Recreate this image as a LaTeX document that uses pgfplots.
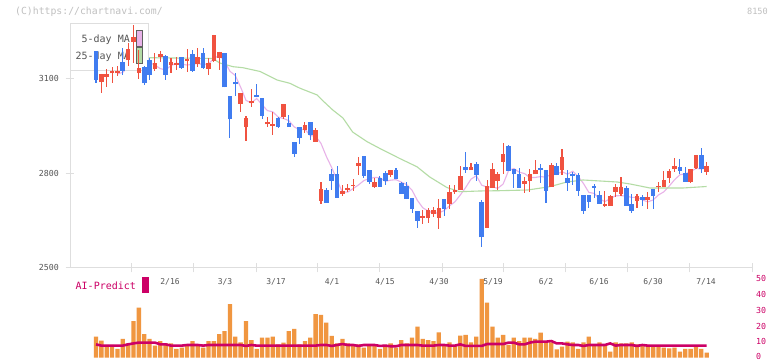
\documentclass[border=0pt]{standalone}
\usepackage{pgfplots}
\pgfplotsset{compat=1.18}
\usepackage{pgfplotstable}
\usepackage{fontspec}
\newfontfamily\cf{DejaVu Sans Mono}
\newcommand{\fs}[1]{\fontsize{#1}{#1}\selectfont}
\definecolor{cred}{RGB}{240,82,64}
\definecolor{cblue}{RGB}{64,124,240}
\definecolor{volor}{RGB}{240,150,64}
\definecolor{mapink}{RGB}{232,178,232}
\definecolor{magreen}{RGB}{180,220,165}
\definecolor{aimag}{RGB}{204,0,102}
\definecolor{lgray}{RGB}{222,222,222}
\definecolor{tgray}{RGB}{85,85,85}
\definecolor{cgray}{RGB}{192,192,192}
\definecolor{sgray}{RGB}{96,96,96}

\pgfplotstableread{
i o h l c
1 3090 3116 3056 3116
2 3107 3131 3074 3116
3 3118 3139 3088 3125
4 3118 3141 3110 3125
6 3160 3214 3141 3195
7 3218 3272 3151 3233
8 3119 3192 3100 3135
11 3133 3183 3124 3151
12 3169 3190 3155 3179
14 3143 3167 3119 3155
15 3144 3171 3129 3152
17 3158 3195 3123 3164
19 3148 3198 3139 3169
21 3133 3167 3114 3151
22 3157 3240 3154 3240
23 3168 3187 3129 3187
27 3021 3056 2995 3056
28 2949 2983 2904 2977
29 3023 3068 3010 3031
32 2956 2979 2948 2963
33 2951 2996 2922 2958
35 2980 3021 2972 3021
39 2939 2963 2930 2954
41 2901 2945 2901 2938
42 2714 2773 2703 2750
46 2736 2763 2729 2745
47 2749 2767 2742 2753
48 2760 2783 2744 2763
49 2824 2853 2795 2834
52 2756 2786 2753 2774
55 2796 2811 2790 2811
61 2660 2684 2639 2665
62 2658 2691 2642 2684
63 2673 2693 2663 2684
64 2660 2718 2625 2692
66 2703 2763 2687 2740
67 2740 2763 2735 2747
68 2748 2825 2748 2792
70 2811 2834 2811 2820
73 2628 2779 2628 2761
74 2755 2834 2755 2814
75 2777 2806 2748 2798
76 2837 2898 2798 2862
80 2768 2788 2739 2776
81 2776 2813 2742 2798
82 2797 2843 2797 2811
85 2758 2834 2758 2827
87 2811 2878 2795 2851
95 2697 2744 2695 2703
96 2697 2732 2697 2729
97 2742 2767 2725 2756
98 2736 2789 2730 2756
101 2713 2735 2690 2729
103 2717 2741 2688 2724
105 2756 2772 2741 2760
106 2758 2808 2758 2779
107 2787 2814 2771 2808
108 2814 2850 2804 2824
111 2774 2814 2771 2814
112 2818 2859 2814 2859
114 2806 2836 2795 2824
}\redtab

\pgfplotstableread{
i o h l c
0 3190 3190 3088 3097
5 3154 3198 3113 3125
9 3138 3141 3081 3086
10 3160 3167 3097 3114
13 3172 3176 3097 3114
16 3169 3171 3132 3136
18 3179 3192 3123 3126
20 3181 3198 3132 3134
24 3183 3183 3073 3073
25 3046 3046 2914 2972
26 3091 3118 3046 3083
30 3049 3084 3044 3044
31 3040 3040 2974 2983
34 2977 2980 2944 2948
36 2960 2986 2949 2949
37 2901 2901 2851 2863
38 2949 2949 2893 2914
40 2964 2964 2906 2922
43 2748 2753 2707 2707
44 2798 2814 2748 2777
45 2798 2824 2723 2723
50 2856 2856 2786 2793
51 2811 2811 2767 2774
53 2786 2792 2758 2758
54 2803 2808 2763 2777
56 2811 2817 2782 2782
57 2771 2773 2735 2735
58 2761 2774 2719 2719
59 2721 2721 2676 2687
60 2681 2681 2628 2650
65 2719 2719 2665 2687
69 2820 2867 2803 2811
71 2830 2836 2776 2795
72 2710 2716 2568 2597
77 2887 2890 2809 2809
78 2813 2813 2755 2797
79 2798 2816 2755 2755
83 2816 2830 2771 2811
84 2811 2811 2707 2745
86 2824 2832 2795 2795
88 2787 2811 2745 2771
89 2798 2805 2764 2792
90 2795 2803 2730 2745
91 2732 2732 2671 2682
92 2732 2732 2691 2710
93 2760 2767 2722 2755
94 2732 2744 2704 2704
99 2753 2760 2698 2698
100 2703 2734 2676 2681
102 2724 2733 2697 2717
104 2750 2750 2687 2729
109 2821 2846 2798 2809
110 2803 2821 2774 2774
113 2859 2880 2802 2815
}\bluetab

\pgfplotstableread{
i ma
4 3115.8
5 3121.4
6 3137.2
7 3160.6
8 3162.6
9 3154.8
10 3152.6
11 3143.8
12 3133
13 3128.8
14 3142.6
15 3150.2
16 3147.2
17 3144.2
18 3146.6
19 3149.4
20 3145.8
21 3148.8
22 3164
23 3176.2
24 3157
25 3124.6
26 3111
27 3074.2
28 3032.2
29 3023.8
30 3038.2
31 3018.2
32 2999.6
33 2995.8
34 2979.2
35 2974.6
36 2967.8
37 2947.8
38 2939
39 2940.2
40 2920.4
41 2918.2
42 2895.6
43 2854.2
44 2818.8
45 2779
46 2740.4
47 2741
48 2752.2
49 2763.6
50 2777.6
51 2783.4
52 2787.6
53 2786.6
54 2775.2
55 2778.8
56 2780.4
57 2772.6
58 2764.8
59 2746.8
60 2714.6
61 2691.2
62 2681
63 2674
64 2675
65 2682.4
66 2697.4
67 2710
68 2731.6
69 2755.4
70 2782
71 2793
72 2763
73 2756.8
74 2757.4
75 2753
76 2766.4
77 2808.8
78 2816
79 2804.2
80 2799.8
81 2787
82 2787.4
83 2790.2
84 2788.2
85 2798.4
86 2797.8
87 2805.8
88 2797.8
89 2807.2
90 2790.8
91 2768.2
92 2740
93 2736.8
94 2719.2
95 2710.8
96 2720.2
97 2729.4
98 2729.6
99 2728.4
100 2724
101 2724
102 2716.2
103 2709.8
104 2716
105 2731.8
106 2741.8
107 2760
108 2780
109 2796
110 2798.8
111 2805.8
112 2816
113 2814.2
114 2817.2
}\mafive

\pgfplotstableread{
i ma
9.9 3167.6
19.0 3165.7
21.8 3165
23.1 3150.8
25.6 3139
27.4 3135.9
30.6 3124
33.8 3096.8
36.2 3086.3
38.1 3070.5
41.3 3049.2
42.2 3033.3
44.2 3001.6
46.1 2976.2
47.9 2931.8
50.6 2901
53.0 2879.4
56.7 2847.6
59.9 2821.6
62.3 2788.9
65.5 2755.6
67.9 2742.2
71.7 2744.5
75.4 2745.4
80.6 2747.6
84.7 2758.1
87.9 2773
90.9 2779.4
94.1 2776.2
97.3 2773
99.7 2766.7
103.4 2754
109.6 2754
114 2758.7
}\matwf

\pgfplotstableread{
i v
0 13.2
1 10.7
2 8
3 8
4 5.5
5 11.8
6 9
7 23.1
8 31.5
9 14.9
10 11.8
11 7.6
12 10.5
13 9
14 9
15 5.5
16 6.3
17 7.6
18 10.5
19 8.4
20 6.3
21 10.5
22 10.5
23 14.9
24 16.8
25 33.8
26 13.2
27 9.7
28 23.1
29 11.1
30 5.5
31 12.6
32 12.6
33 13.2
34 8.4
35 9.5
36 16.8
37 18.1
38 8.4
39 10.5
40 12.6
41 27.5
42 26.9
43 22.1
44 13.7
45 9
46 11.8
47 9
48 8
49 8.4
50 6.3
51 8.4
52 8.4
53 5.5
54 8
55 9
56 6.3
57 11.1
58 9
59 12.6
60 19.5
61 11.8
62 11.1
63 10.5
64 16
65 8
66 9.7
67 8
68 13.9
69 14.3
70 9.7
71 13.2
72 49.6
73 34.7
74 19.5
75 12.6
76 14.3
77 8
78 12.6
79 10.5
80 12.6
81 12.6
82 11.8
83 15.8
84 10.5
85 9.7
86 5.3
87 6.9
88 10.1
89 9.7
90 5.5
91 9.7
92 13.2
93 8.4
94 9.7
95 8
96 3.8
97 9.7
98 9
99 9
100 9.7
101 8.4
102 8
103 8
104 6.9
105 6.9
106 6.3
107 5.9
108 6.3
109 3.8
110 5.5
111 5.5
112 6.9
113 5.5
114 3.2
}\voltab

\pgfplotstableread{
i p
0 8.4
1 7.6
2 7.6
3 7.6
4 7.6
5 7.6
6 8.4
7 9.0
8 9.5
9 9.5
10 9.5
11 9.5
12 8.4
13 8.4
14 7.6
15 7.6
16 7.6
17 8.0
18 8.0
19 8.0
20 7.6
21 8.0
22 8.0
23 8.0
24 8.0
25 8.0
26 8.0
27 8.0
28 7.4
29 8.0
30 7.6
31 7.6
32 7.6
33 7.6
34 7.6
35 7.6
36 7.6
37 7.6
38 7.6
39 7.6
40 7.6
41 7.6
42 8.0
43 8.0
44 7.4
45 8.0
46 8.6
47 8.0
48 8.0
49 7.4
50 8.0
51 8.0
52 8.0
53 7.4
54 7.6
55 7.2
56 7.2
57 8.0
58 8.0
59 8.0
60 8.0
61 7.6
62 7.6
63 7.6
64 8.0
65 8.0
66 7.6
67 7.6
68 8.4
69 7.4
70 7.4
71 7.4
72 7.4
73 8.6
74 8.6
75 8.6
76 8.6
77 9.5
78 9.5
79 8.4
80 8.4
81 9.5
82 10.1
83 10.1
84 10.1
85 10.5
86 9.0
87 9.0
88 8.4
89 8.0
90 8.0
91 7.4
92 8.0
93 8.0
94 8.0
95 8.0
96 9.0
97 7.6
98 8.0
99 8.0
100 8.0
101 7.4
102 8.0
103 7.6
104 7.6
105 7.6
106 7.6
107 7.6
108 7.6
109 7.6
110 7.6
111 7.6
112 7.6
113 7.6
114 7.6
}\aitab

\newcommand{\TL}[2]{([xshift=#1pt,yshift=#2pt]rel axis cs:0,1)}

\begin{document}
\begin{tikzpicture}[x=1pt,y=1pt]
\path[use as bounding box, fill=white] (0,0) rectangle (772,361);

% header texts
\node[anchor=base west, inner sep=0, text=cgray, font=\cf\fs{9.8}] at (15,346.5) {(C)https://chartnavi.com/};
\node[anchor=base east, inner sep=0, text=cgray, font=\cf\fs{8.6}] at (768,346.5) {8150};

% price axis labels
\foreach \yy/\lab in {279.3/3100, 184.3/2800, 90.3/2500}
  \node[anchor=base east, inner sep=0, text=tgray, font=\cf\fs{8.3}] at (59,\yy) {\lab};
% date labels
\foreach \xx/\lab in {170/2\slash 16, 225/3\slash 3, 276/3\slash 17, 332/4\slash 1, 385/4\slash 15, 439/4\slash 30, 493/5\slash 19, 546/6\slash 2, 599/6\slash 16, 653/6\slash 30, 706/7\slash 14}
  \node[anchor=base, inner sep=0, text=tgray, font=\cf\fs{8}] at (\xx,76) {\lab};
% volume axis labels
\foreach \yy/\lab in {82.7/50, 66.8/40, 50.9/30, 35.0/20, 19.2/10, 4.6/0}
  \node[anchor=west, inner sep=0, text=aimag, font=\cf\fs{8.3}] at (756,\yy) {\lab};
% AI-Predict label
\node[anchor=base west, inner sep=0, text=aimag, font=\cf\fs{10}] at (75.5,71) {AI-Predict};
\fill[aimag] (142.3,68.3) rectangle (149,84.3);

% ---------------- main price axis
\begin{axis}[
  at={(70pt,93pt)}, anchor=south west,
  scale only axis, width=682pt, height=244pt,
  xmin=-4.8535, xmax=122.46, ymin=2500, ymax=3274.6,
  axis x line=bottom, axis y line=left,
  axis line style={draw=lgray, line width=1pt, -},
  xtick={6.72,18.29,29.87,41.44,53.01,64.59,76.16,87.73,99.31,110.88,122.46},
  xticklabels={},
  ytick={2500,2800,3100}, yticklabels={},
  tick style={draw=lgray, line width=1pt},
  major tick length=9pt, tick align=center,
  clip=false,
]
% moving averages
\addplot[mapink, line width=1.1pt, mark=none] table[x=i, y=ma] {\mafive};
\addplot[magreen, line width=1.1pt, mark=none] table[x=i, y=ma] {\matwf};

% legend box (under candles)
\draw[lgray, line width=1pt, fill=white] \TL{0}{0} rectangle \TL{78}{-47};
\node[anchor=base east, inner sep=0, text=tgray, font=\cf\fs{10}] at \TL{60}{-18.3} {5-day MA};
\node[anchor=base east, inner sep=0, text=tgray, font=\cf\fs{10}] at \TL{60}{-35.3} {25-day MA};
\draw[sgray, line width=1pt, fill=mapink] \TL{66.7}{-7} rectangle \TL{72.7}{-22.7};
\draw[sgray, line width=1pt, fill=magreen] \TL{66.7}{-24} rectangle \TL{72.7}{-39.7};

% wicks
\addplot[draw=none, mark=none, forget plot,
  error bars/.cd, y dir=both, y explicit, error mark=none,
  error bar style={draw=cred, line width=1.1pt, line cap=butt}]
  table[x=i, y=c, y error plus expr=\thisrow{h}-\thisrow{c}, y error minus expr=\thisrow{c}-\thisrow{l}] {\redtab};
\addplot[draw=none, mark=none, forget plot,
  error bars/.cd, y dir=both, y explicit, error mark=none,
  error bar style={draw=cblue, line width=1.1pt, line cap=butt}]
  table[x=i, y=c, y error plus expr=\thisrow{h}-\thisrow{c}, y error minus expr=\thisrow{c}-\thisrow{l}] {\bluetab};
% bodies
\addplot[draw=none, mark=none, forget plot,
  error bars/.cd, y dir=plus, y explicit, error mark=none,
  error bar style={draw=cred, line width=4.6pt, line cap=butt}]
  table[x=i, y=o, y error plus expr=\thisrow{c}-\thisrow{o}] {\redtab};
\addplot[draw=none, mark=none, forget plot,
  error bars/.cd, y dir=plus, y explicit, error mark=none,
  error bar style={draw=cblue, line width=4.6pt, line cap=butt}]
  table[x=i, y=c, y error plus expr=\thisrow{o}-\thisrow{c}] {\bluetab};
\end{axis}

% ---------------- volume axis
\begin{axis}[
  at={(70pt,3.3pt)}, anchor=south west,
  scale only axis, width=682pt, height=79.4pt,
  xmin=-4.8535, xmax=122.46, ymin=0, ymax=50,
  hide axis, clip=false,
]
\addplot[ybar, bar width=4.3pt, bar shift=0pt, fill=volor, draw=none] table[x=i, y=v] {\voltab};
\addplot[aimag, line width=2.6pt, mark=none, line join=round] table[x=i, y=p] {\aitab};
\end{axis}
\end{tikzpicture}
\end{document}
